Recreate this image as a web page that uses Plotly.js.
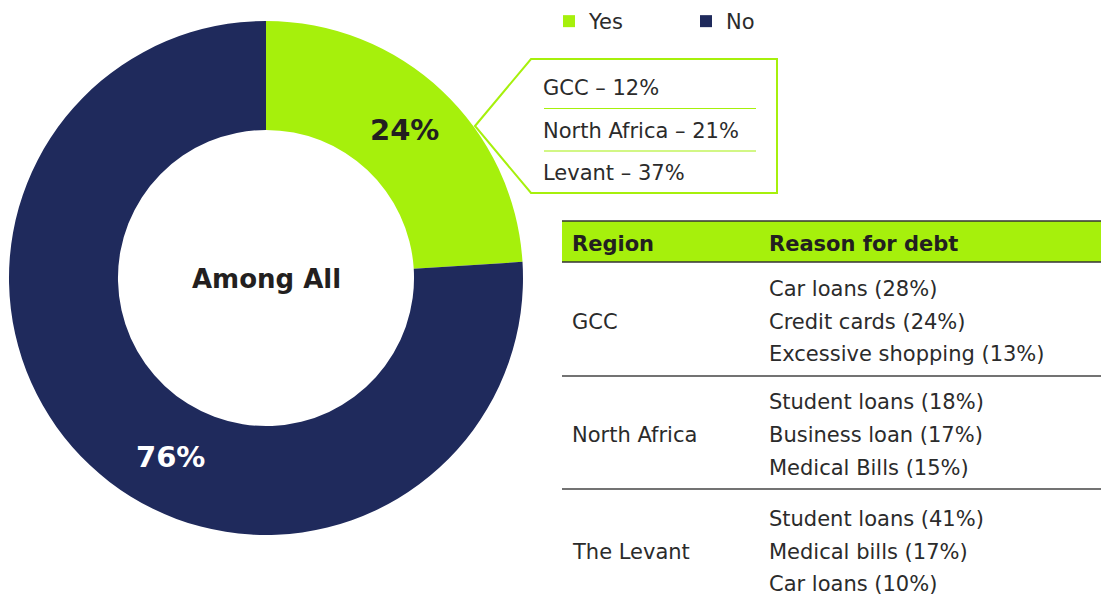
<!DOCTYPE html>
<html>
<head>
<meta charset="utf-8">
<script src="https://cdn.plot.ly/plotly-3.0.1.min.js"></script>
<style>html,body{margin:0;padding:0;background:#fff;}#chart{width:1101px;height:608px;}</style>
</head>
<body>
<div id="chart"></div>
<script>
// ---- data ----
const answers = ['Yes', 'No'];
const shares = [24, 76];
const centerLabel = 'Among All';
const calloutRegions = ['GCC', 'North Africa', 'Levant'];
const calloutShares = [12, 21, 37];
const tableHeaders = ['Region', 'Reason for debt'];
const tableRegions = ['GCC', 'North Africa', 'The Levant'];
const tableReasons = [
  ['Car loans (28%)', 'Credit cards (24%)', 'Excessive shopping (13%)'],
  ['Student loans (18%)', 'Business loan (17%)', 'Medical Bills (15%)'],
  ['Student loans (41%)', 'Medical bills (17%)', 'Car loans (10%)']
];

// ---- style ----
const W = 1101, H = 608;
const GREEN = '#a6f00c', NAVY = '#1f2a5c', DARK = '#231f20', TXT = '#2b2b2b';
const REG = 'DejaVu Sans, sans-serif';
const BOLD = 'DejaVu Sans, sans-serif';
const px = x => x / W;
const py = y => 1 - y / H;

const cx = 266, cy = 278, R = 257, holeFrac = 0.576;

const trace = {
  type: 'pie',
  labels: answers,
  values: shares,
  marker: {colors: [GREEN, NAVY]},
  hole: holeFrac,
  sort: false,
  direction: 'clockwise',
  rotation: 0,
  textinfo: 'none',
  hoverinfo: 'label+percent',
  domain: {x: [px(cx - R), px(cx + R)], y: [py(cy + R), py(cy - R)]},
  showlegend: true
};

const annotations = [];
const shapes = [];

// center label
annotations.push({xref: 'paper', yref: 'paper', x: px(cx), y: py(cy + 1), text: '<b>' + centerLabel + '</b>',
  showarrow: false, xanchor: 'center', yanchor: 'middle', font: {family: BOLD, size: 26, color: DARK}});

// slice labels placed on the ring midline
const total = shares.reduce((a, b) => a + b, 0);
const rMid = R * (1 + holeFrac) / 2;
const labelAngles = [shares[0] / total * 360 / 2, 208]; // degrees clockwise from top
const labelColors = [DARK, '#ffffff'];
shares.forEach((v, i) => {
  const a = labelAngles[i] * Math.PI / 180;
  annotations.push({xref: 'paper', yref: 'paper', x: px(cx + rMid * Math.sin(a)), y: py(cy - rMid * Math.cos(a)),
    text: '<b>' + v + '%</b>', showarrow: false, xanchor: 'center', yanchor: 'middle',
    font: {family: BOLD, size: 29, color: labelColors[i]}});
});

// callout box
const bx0 = 531, bx1 = 777, by0 = 59, by1 = 193, tipX = 475, tipY = 126;
shapes.push({type: 'path', xref: 'paper', yref: 'paper',
  path: `M ${px(tipX)} ${py(tipY)} L ${px(bx0)} ${py(by0)} L ${px(bx1)} ${py(by0)} L ${px(bx1)} ${py(by1)} L ${px(bx0)} ${py(by1)} Z`,
  line: {color: GREEN, width: 2}, fillcolor: 'rgba(255,255,255,0)'});
const calloutY = [88, 131, 173];
calloutRegions.forEach((r, i) => {
  annotations.push({xref: 'paper', yref: 'paper', x: px(541), y: py(calloutY[i]), text: r + ' – ' + calloutShares[i] + '%',
    showarrow: false, xanchor: 'left', yanchor: 'middle', font: {family: REG, size: 21, color: TXT}});
  if (i < calloutRegions.length - 1) {
    const ly = (calloutY[i] + calloutY[i + 1]) / 2 - 1;
    shapes.push({type: 'line', xref: 'paper', yref: 'paper', x0: px(544), x1: px(756), y0: py(ly), y1: py(ly),
      line: {color: GREEN, width: 1.2}});
  }
});

// table
const tx0 = 562, tx1 = W, hTop = 221, hBot = 262;
shapes.push({type: 'rect', xref: 'paper', yref: 'paper', x0: px(tx0), x1: px(tx1), y0: py(hBot), y1: py(hTop),
  fillcolor: GREEN, line: {width: 0}, layer: 'below'});
[hTop, hBot].forEach(y => shapes.push({type: 'line', xref: 'paper', yref: 'paper', x0: px(tx0), x1: px(tx1),
  y0: py(y), y1: py(y), line: {color: '#333333', width: 1.5}}));
const colX = [570, 767];
tableHeaders.forEach((h, i) => annotations.push({xref: 'paper', yref: 'paper', x: px(colX[i]), y: py(244),
  text: '<b>' + h + '</b>', showarrow: false, xanchor: 'left', yanchor: 'middle',
  font: {family: BOLD, size: 21, color: DARK}}));
const rowTop = [262, 376, 489];
const rowLines = [[289, 322, 354], [402, 435, 468], [519, 552, 584]];
tableRegions.forEach((r, i) => {
  annotations.push({xref: 'paper', yref: 'paper', x: px(colX[0]), y: py(rowLines[i][1]), text: r,
    showarrow: false, xanchor: 'left', yanchor: 'middle', font: {family: REG, size: 21, color: TXT}});
  tableReasons[i].forEach((t, j) => annotations.push({xref: 'paper', yref: 'paper', x: px(colX[1]), y: py(rowLines[i][j]),
    text: t, showarrow: false, xanchor: 'left', yanchor: 'middle', font: {family: REG, size: 21, color: TXT}}));
  if (i > 0) shapes.push({type: 'line', xref: 'paper', yref: 'paper', x0: px(tx0), x1: px(tx1),
    y0: py(rowTop[i]), y1: py(rowTop[i]), line: {color: '#444444', width: 1.3}});
});

const layout = {
  width: W, height: H,
  margin: {l: 0, r: 0, t: 0, b: 0},
  paper_bgcolor: '#ffffff',
  showlegend: true,
  legend: {orientation: 'h', x: px(549), y: py(1), xanchor: 'left', yanchor: 'top',
    font: {family: REG, size: 21, color: TXT}, entrywidth: 92, entrywidthmode: 'pixels', traceorder: 'normal'},
  annotations: annotations,
  shapes: shapes
};

Plotly.newPlot('chart', [trace], layout, {displayModeBar: false, staticPlot: true});
</script>
</body>
</html>
